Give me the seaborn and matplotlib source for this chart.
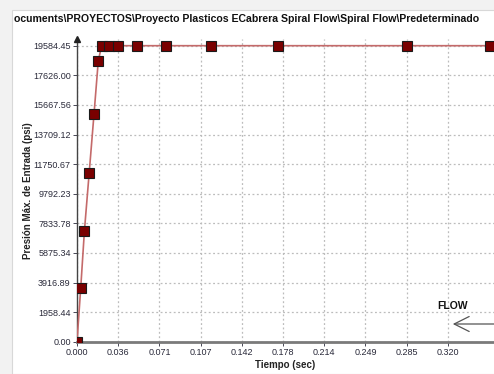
import numpy as np
import pandas as pd
import matplotlib
matplotlib.use('Agg')
import matplotlib.pyplot as plt
from matplotlib.patches import Rectangle
import seaborn as sns

# data
tiempo = [0.0, 0.0032, 0.0064, 0.0105, 0.0147, 0.0184, 0.0213, 0.0279, 0.0357,
          0.0516, 0.0772, 0.1158, 0.1737, 0.2851, 0.3568]
presion = [0.0, 3533.0, 7324.0, 11142.0, 15065.0, 18591.0, 19584.45, 19584.45,
           19584.45, 19584.45, 19584.45, 19584.45, 19584.45, 19584.45, 19584.45]
y_ticks = [0.0, 1958.445, 3916.89, 5875.335, 7833.78, 9792.225, 11750.67,
           13709.115, 15667.56, 17626.005, 19584.45]
y_labels = ['0.00', '1958.44', '3916.89', '5875.34', '7833.78', '9792.23',
            '11750.67', '13709.12', '15667.56', '17626.00', '19584.45']
x_ticks = [i * 0.0356 for i in range(10)]
x_labels = ['0.000', '0.036', '0.071', '0.107', '0.142', '0.178', '0.214',
            '0.249', '0.285', '0.320']
titulo = 'ocuments\\PROYECTOS\\Proyecto Plasticos ECabrera Spiral Flow\\Spiral Flow\\Predeterminado'

df = pd.DataFrame({'Tiempo (sec)': tiempo, 'Presion': presion})

sns.set_theme(style='white')
plt.rcParams['font.family'] = ['Liberation Sans', 'DejaVu Sans']

fig = plt.figure(figsize=(4.94, 3.74), dpi=100, facecolor='#f2f2f2')
fig.patches.append(Rectangle((12 / 494, 0), 1, 1 - 10 / 374, transform=fig.transFigure,
                             facecolor='white', edgecolor='#d8d8d8', lw=0.8, zorder=-5))
ax = fig.add_axes([77 / 494, 32.3 / 374, 417 / 494, 302.7 / 374])
ax.set_facecolor('none')

sns.lineplot(data=df, x='Tiempo (sec)', y='Presion', ax=ax, color='#c46a6a', lw=1.2,
             marker='s', markersize=7, markerfacecolor='#7a0000',
             markeredgecolor='#1a1a1a', markeredgewidth=0.8, zorder=5)

ax.set_xlim(0, 0.3603)
ax.set_ylim(0, 20028)
ax.set_xticks(x_ticks)
ax.set_xticklabels(x_labels)
ax.set_yticks(y_ticks)
ax.set_yticklabels(y_labels)
ax.tick_params(axis='both', labelsize=6.5, colors='#2a2a3a', length=3, width=0.6,
               pad=1.5, left=True, bottom=True)
ax.grid(True, color='#bcbcbc', linestyle=(0, (1.5, 2)), lw=0.9)

for s in ['top', 'right']:
    ax.spines[s].set_visible(False)
ax.spines['left'].set_color('#444444')
ax.spines['left'].set_linewidth(1.0)
ax.spines['bottom'].set_color('#7a7a7a')
ax.spines['bottom'].set_linewidth(2.0)
ax.plot([0], [1], marker='^', color='#222222', markersize=4, transform=ax.transAxes,
        clip_on=False, zorder=6)

ax.set_xlabel('Tiempo (sec)', fontsize=7, fontweight='bold', color='#222222', labelpad=2)
ax.set_ylabel('Presión Máx. de Entrada (psi)', fontsize=7, fontweight='bold',
              color='#222222')
ax.yaxis.set_label_coords(-0.106, 0.5)

fig.text(14 / 494, 1 - 19 / 374, titulo, fontsize=7.6, fontweight='bold',
         color='#111111', va='center', ha='left')

fig.text(452 / 494, 1 - 306 / 374, 'FLOW', fontsize=7.5, fontweight='bold',
         color='#111111', va='center', ha='center')
ax.annotate('', xy=(450 / 494, 1 - 324 / 374), xycoords='figure fraction',
            xytext=(500 / 494, 1 - 324 / 374), textcoords='figure fraction',
            arrowprops=dict(arrowstyle='->,head_length=0.9,head_width=0.45',
                            color='#555555', lw=0.9))

fig.savefig('out.png', dpi=100, facecolor=fig.get_facecolor())
